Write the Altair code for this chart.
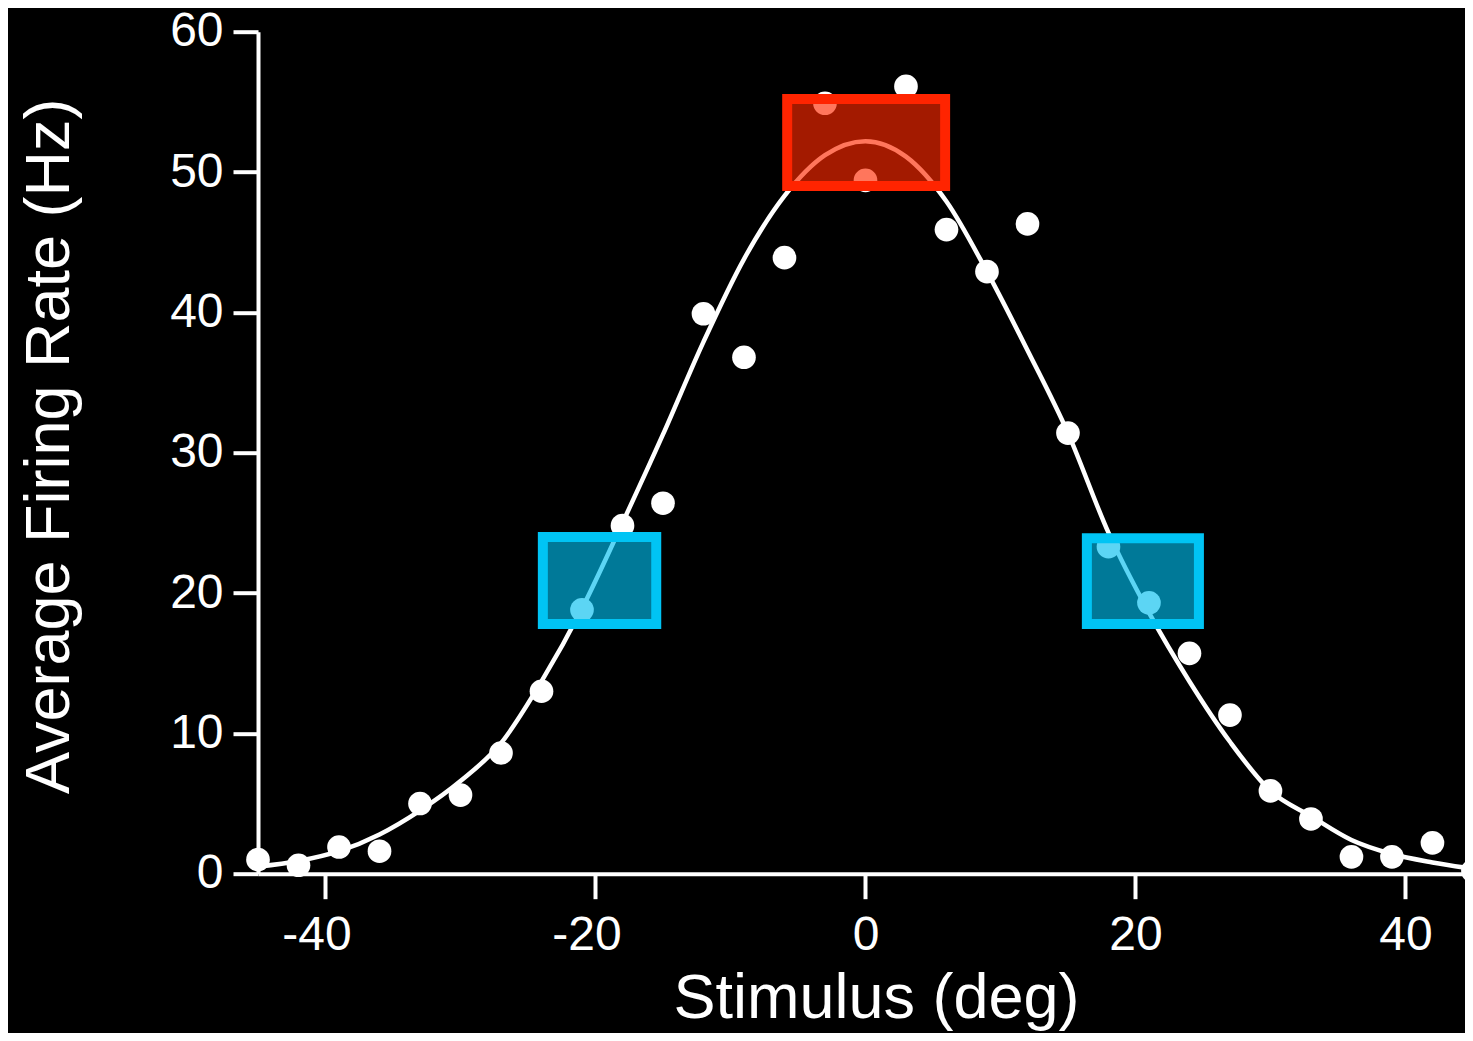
import altair as alt
import pandas as pd

# Measured data points (stimulus in degrees, average firing rate in Hz)
stimulus = [-45, -42, -39, -36, -33, -30, -27, -24, -21, -18, -15, -12, -9, -6, -3,
            0, 3, 6, 9, 12, 15, 18, 21, 24, 27, 30, 33, 36, 39, 42, 45]
firing_rate = [1.0, 0.6, 1.9, 1.6, 5.0, 5.6, 8.6, 13.0, 18.8, 24.8, 26.4, 39.9, 36.8, 43.9, 54.9,
               49.4, 56.1, 45.9, 42.9, 46.3, 31.4, 23.3, 19.3, 15.7, 11.3, 5.9, 3.9, 1.2, 1.2, 2.2, 0.2]

# Fitted tuning curve
fit_stimulus = [-45, -42, -39, -36, -33, -30, -27, -24, -21, -18, -15, -12, -9, -6, -3,
                0, 3, 6, 9, 12, 15, 18, 21, 24, 27, 30, 33, 36, 39, 42, 45]
fit_rate = [0.5, 0.9, 1.6, 2.8, 4.5, 6.6, 9.3, 13.7, 18.9, 25.0, 31.3, 37.9, 43.8, 48.3, 51.2,
            52.2, 51.1, 47.9, 42.9, 37.3, 31.4, 24.3, 18.6, 13.7, 9.4, 5.9, 4.1, 2.4, 1.4, 0.8, 0.35]

# Highlight boxes
box_x = [-5.8, -23.9, 16.4]
box_x2 = [5.9, -15.5, 24.7]
box_y = [49.0, 17.8, 17.8]
box_y2 = [55.2, 24.0, 23.9]
box_fill = ["#ff2900", "#00beee", "#00beee"]
box_stroke = ["#ff2400", "#00c4f4", "#00c4f4"]

x_ticks = [-40, -20, 0, 20, 40]
y_ticks = [0, 10, 20, 30, 40, 50, 60]

points_df = pd.DataFrame({"stim": stimulus, "rate": firing_rate})
fit_df = pd.DataFrame({"stim": fit_stimulus, "rate": fit_rate})
box_df = pd.DataFrame({"x": box_x, "x2": box_x2, "y": box_y, "y2": box_y2,
                       "fill": box_fill, "stroke": box_stroke})

# the page is cropped just before x = 45, as in the reference
xs = alt.Scale(domain=[-45, 44.41], nice=False, zero=False)
ys = alt.Scale(domain=[0, 60], nice=False, zero=False)

x_axis = alt.Axis(
    values=x_ticks,
    title="Stimulus (deg)",
    tickSize=25,
    labelPadding=13,
    labelExpr="'' + datum.value",
    labelOffset={"condition": {"test": "datum.value < 0", "value": -9}, "value": 0},
    titleX=618,
    titleY=144,
    titleBaseline="alphabetic",
)
y_axis = alt.Axis(
    values=y_ticks,
    title="Average Firing Rate (Hz)",
    tickSize=25,
    labelPadding=10,
    labelExpr="'' + datum.value",
    titleX=-190,
    titleY=414,
    titleBaseline="alphabetic",
)

line = alt.Chart(fit_df).mark_line(color="white", strokeWidth=4.5, interpolate="monotone").encode(
    x=alt.X("stim:Q", scale=xs, axis=x_axis),
    y=alt.Y("rate:Q", scale=ys, axis=y_axis),
)

points = alt.Chart(points_df).mark_circle(color="white", size=560, opacity=1).encode(
    x=alt.X("stim:Q", scale=xs),
    y=alt.Y("rate:Q", scale=ys),
)

boxes = alt.Chart(box_df).mark_rect(strokeWidth=10, fillOpacity=0.64, strokeOpacity=1).encode(
    x=alt.X("x:Q", scale=xs),
    x2="x2:Q",
    y=alt.Y("y:Q", scale=ys),
    y2="y2:Q",
    fill=alt.Fill("fill:N", scale=None),
    stroke=alt.Stroke("stroke:N", scale=None),
)

chart = alt.layer(line, points, boxes).properties(
    width=1207,
    height=842,
    autosize=alt.AutoSizeParams(type="none"),
    padding={"left": 250, "top": 23.7, "right": 0, "bottom": 159},
    background="black",
).configure_view(
    stroke=None,
).configure_axis(
    grid=False,
    domainColor="white",
    domainWidth=4,
    tickColor="white",
    tickWidth=4,
    labelColor="white",
    labelFont="Liberation Sans",
    labelFontSize=48,
    titleColor="white",
    titleFont="Liberation Sans",
    titleFontSize=63,
    titleFontWeight="normal",
)

chart.save("out.html", embed_options={"renderer": "svg", "actions": False})
